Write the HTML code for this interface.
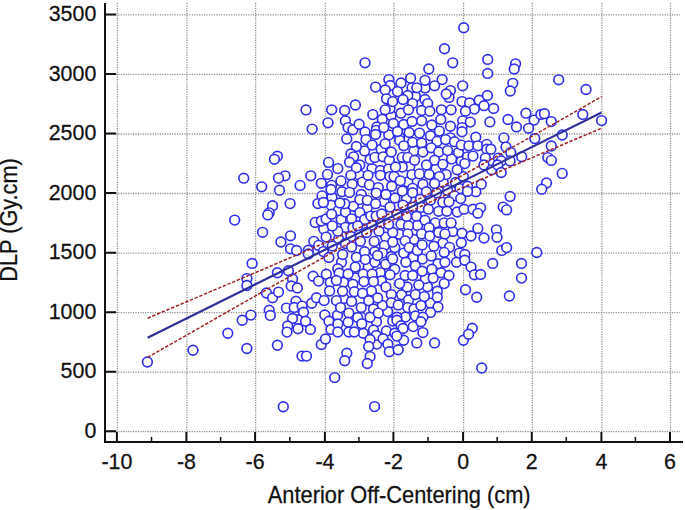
<!DOCTYPE html><html><head><meta charset="utf-8"><style>html,body{margin:0;padding:0;background:#fff;}svg{display:block;}text{font-family:"Liberation Sans",sans-serif;stroke:#111;stroke-width:0.25px;}</style></head><body>
<svg width="685" height="510" viewBox="0 0 685 510">
<path d="M117.4 3V432 M186.9 3V432 M255.6 3V432 M325.4 3V432 M393.9 3V432 M463.6 3V432 M532.3 3V432 M601.9 3V432 M670.5 3V432 M106 431.7H680 M106 372.2H680 M106 312.6H680 M106 253.1H680 M106 193.5H680 M106 134.0H680 M106 74.4H680 M106 14.9H680" stroke="#8e8e8e" stroke-width="1.3" stroke-dasharray="1.2 1.25" fill="none"/>
<g fill="#fff" stroke="#3030ec" stroke-width="1.65"><circle cx="455.5" cy="182.5" r="4.85"/><circle cx="430.4" cy="135.7" r="4.85"/><circle cx="341.0" cy="180.9" r="4.85"/><circle cx="341.2" cy="219.4" r="4.85"/><circle cx="360.4" cy="241.3" r="4.85"/><circle cx="436.5" cy="192.9" r="4.85"/><circle cx="420.4" cy="199.3" r="4.85"/><circle cx="396.9" cy="214.3" r="4.85"/><circle cx="406.6" cy="216.6" r="4.85"/><circle cx="385.6" cy="264.3" r="4.85"/><circle cx="355.3" cy="267.1" r="4.85"/><circle cx="401.6" cy="294.8" r="4.85"/><circle cx="451.6" cy="158.9" r="4.85"/><circle cx="463.3" cy="176.6" r="4.85"/><circle cx="394.9" cy="198.0" r="4.85"/><circle cx="387.6" cy="311.6" r="4.85"/><circle cx="364.6" cy="150.9" r="4.85"/><circle cx="391.7" cy="186.3" r="4.85"/><circle cx="422.5" cy="259.1" r="4.85"/><circle cx="413.2" cy="326.6" r="4.85"/><circle cx="403.7" cy="124.5" r="4.85"/><circle cx="427.5" cy="286.8" r="4.85"/><circle cx="382.3" cy="119.3" r="4.85"/><circle cx="430.6" cy="199.9" r="4.85"/><circle cx="416.5" cy="216.2" r="4.85"/><circle cx="371.7" cy="225.1" r="4.85"/><circle cx="417.5" cy="225.5" r="4.85"/><circle cx="443.0" cy="243.1" r="4.85"/><circle cx="380.3" cy="272.6" r="4.85"/><circle cx="371.4" cy="290.9" r="4.85"/><circle cx="405.5" cy="317.1" r="4.85"/><circle cx="363.3" cy="333.2" r="4.85"/><circle cx="388.8" cy="134.9" r="4.85"/><circle cx="437.0" cy="141.4" r="4.85"/><circle cx="414.0" cy="150.9" r="4.85"/><circle cx="332.0" cy="197.3" r="4.85"/><circle cx="353.4" cy="206.3" r="4.85"/><circle cx="385.7" cy="237.1" r="4.85"/><circle cx="413.9" cy="239.5" r="4.85"/><circle cx="441.0" cy="272.7" r="4.85"/><circle cx="430.4" cy="303.1" r="4.85"/><circle cx="458.5" cy="152.6" r="4.85"/><circle cx="372.0" cy="168.6" r="4.85"/><circle cx="436.1" cy="168.9" r="4.85"/><circle cx="323.7" cy="229.1" r="4.85"/><circle cx="338.6" cy="239.3" r="4.85"/><circle cx="382.4" cy="305.4" r="4.85"/><circle cx="337.5" cy="315.3" r="4.85"/><circle cx="386.4" cy="331.0" r="4.85"/><circle cx="425.1" cy="87.9" r="4.85"/><circle cx="415.4" cy="96.5" r="4.85"/><circle cx="391.1" cy="115.6" r="4.85"/><circle cx="365.0" cy="132.0" r="4.85"/><circle cx="409.8" cy="166.8" r="4.85"/><circle cx="331.1" cy="205.2" r="4.85"/><circle cx="367.2" cy="207.9" r="4.85"/><circle cx="338.3" cy="210.6" r="4.85"/><circle cx="345.5" cy="212.1" r="4.85"/><circle cx="381.5" cy="223.4" r="4.85"/><circle cx="345.4" cy="227.4" r="4.85"/><circle cx="452.7" cy="231.5" r="4.85"/><circle cx="413.2" cy="257.4" r="4.85"/><circle cx="326.3" cy="274.3" r="4.85"/><circle cx="425.4" cy="278.6" r="4.85"/><circle cx="343.5" cy="282.2" r="4.85"/><circle cx="343.8" cy="298.4" r="4.85"/><circle cx="408.5" cy="300.0" r="4.85"/><circle cx="376.5" cy="321.7" r="4.85"/><circle cx="359.3" cy="174.9" r="4.85"/><circle cx="407.8" cy="182.0" r="4.85"/><circle cx="443.3" cy="182.8" r="4.85"/><circle cx="459.9" cy="188.6" r="4.85"/><circle cx="406.5" cy="198.6" r="4.85"/><circle cx="384.0" cy="201.6" r="4.85"/><circle cx="421.1" cy="207.4" r="4.85"/><circle cx="399.3" cy="234.3" r="4.85"/><circle cx="449.5" cy="247.3" r="4.85"/><circle cx="341.5" cy="262.3" r="4.85"/><circle cx="368.2" cy="267.1" r="4.85"/><circle cx="355.6" cy="277.7" r="4.85"/><circle cx="381.4" cy="281.0" r="4.85"/><circle cx="403.6" cy="340.2" r="4.85"/><circle cx="376.9" cy="344.1" r="4.85"/><circle cx="243.7" cy="178.2" r="4.85"/><circle cx="234.7" cy="220.1" r="4.85"/><circle cx="252.1" cy="263.4" r="4.85"/><circle cx="246.9" cy="278.6" r="4.85"/><circle cx="246.9" cy="285.5" r="4.85"/><circle cx="250.9" cy="315.1" r="4.85"/><circle cx="242.2" cy="320.3" r="4.85"/><circle cx="227.8" cy="333.2" r="4.85"/><circle cx="193.0" cy="350.2" r="4.85"/><circle cx="246.9" cy="348.5" r="4.85"/><circle cx="147.4" cy="362.0" r="4.85"/><circle cx="306.0" cy="109.9" r="4.85"/><circle cx="312.1" cy="129.1" r="4.85"/><circle cx="277.4" cy="156.2" r="4.85"/><circle cx="274.4" cy="159.3" r="4.85"/><circle cx="285.0" cy="175.8" r="4.85"/><circle cx="278.5" cy="178.1" r="4.85"/><circle cx="261.7" cy="186.8" r="4.85"/><circle cx="279.5" cy="190.2" r="4.85"/><circle cx="300.1" cy="185.4" r="4.85"/><circle cx="310.8" cy="175.8" r="4.85"/><circle cx="321.3" cy="183.3" r="4.85"/><circle cx="322.0" cy="195.9" r="4.85"/><circle cx="317.9" cy="203.6" r="4.85"/><circle cx="323.4" cy="202.5" r="4.85"/><circle cx="290.1" cy="203.6" r="4.85"/><circle cx="272.6" cy="205.7" r="4.85"/><circle cx="269.2" cy="212.8" r="4.85"/><circle cx="267.8" cy="214.9" r="4.85"/><circle cx="315.2" cy="222.4" r="4.85"/><circle cx="321.3" cy="221.0" r="4.85"/><circle cx="262.6" cy="232.3" r="4.85"/><circle cx="280.9" cy="242.0" r="4.85"/><circle cx="290.5" cy="235.8" r="4.85"/><circle cx="290.5" cy="248.8" r="4.85"/><circle cx="296.6" cy="250.5" r="4.85"/><circle cx="308.3" cy="250.2" r="4.85"/><circle cx="308.3" cy="254.0" r="4.85"/><circle cx="313.8" cy="241.3" r="4.85"/><circle cx="318.6" cy="245.4" r="4.85"/><circle cx="323.4" cy="251.6" r="4.85"/><circle cx="277.4" cy="272.8" r="4.85"/><circle cx="288.4" cy="270.8" r="4.85"/><circle cx="292.5" cy="279.0" r="4.85"/><circle cx="291.2" cy="285.9" r="4.85"/><circle cx="297.3" cy="287.9" r="4.85"/><circle cx="313.1" cy="276.2" r="4.85"/><circle cx="318.6" cy="281.1" r="4.85"/><circle cx="266.5" cy="293.0" r="4.85"/><circle cx="272.6" cy="297.8" r="4.85"/><circle cx="278.5" cy="292.1" r="4.85"/><circle cx="269.2" cy="310.2" r="4.85"/><circle cx="270.3" cy="315.4" r="4.85"/><circle cx="286.4" cy="308.1" r="4.85"/><circle cx="296.0" cy="301.3" r="4.85"/><circle cx="294.2" cy="307.4" r="4.85"/><circle cx="302.1" cy="306.1" r="4.85"/><circle cx="303.5" cy="312.2" r="4.85"/><circle cx="298.0" cy="319.8" r="4.85"/><circle cx="292.5" cy="318.4" r="4.85"/><circle cx="305.6" cy="321.2" r="4.85"/><circle cx="287.7" cy="326.0" r="4.85"/><circle cx="287.0" cy="332.1" r="4.85"/><circle cx="298.0" cy="328.7" r="4.85"/><circle cx="310.4" cy="329.4" r="4.85"/><circle cx="311.7" cy="303.3" r="4.85"/><circle cx="316.5" cy="297.8" r="4.85"/><circle cx="324.1" cy="300.6" r="4.85"/><circle cx="324.8" cy="315.0" r="4.85"/><circle cx="321.3" cy="344.5" r="4.85"/><circle cx="277.4" cy="345.2" r="4.85"/><circle cx="302.0" cy="356.1" r="4.85"/><circle cx="306.5" cy="356.1" r="4.85"/><circle cx="283.3" cy="406.7" r="4.85"/><circle cx="365.0" cy="62.8" r="4.85"/><circle cx="375.6" cy="87.1" r="4.85"/><circle cx="388.9" cy="79.6" r="4.85"/><circle cx="390.2" cy="85.4" r="4.85"/><circle cx="385.2" cy="89.9" r="4.85"/><circle cx="386.5" cy="98.8" r="4.85"/><circle cx="390.0" cy="108.4" r="4.85"/><circle cx="385.2" cy="109.8" r="4.85"/><circle cx="372.8" cy="114.6" r="4.85"/><circle cx="355.4" cy="105.0" r="4.85"/><circle cx="344.7" cy="110.5" r="4.85"/><circle cx="331.7" cy="109.8" r="4.85"/><circle cx="328.0" cy="122.8" r="4.85"/><circle cx="345.4" cy="120.8" r="4.85"/><circle cx="348.1" cy="127.6" r="4.85"/><circle cx="352.9" cy="129.7" r="4.85"/><circle cx="359.1" cy="124.2" r="4.85"/><circle cx="376.9" cy="126.9" r="4.85"/><circle cx="376.2" cy="130.4" r="4.85"/><circle cx="375.6" cy="134.5" r="4.85"/><circle cx="383.8" cy="127.6" r="4.85"/><circle cx="393.4" cy="123.5" r="4.85"/><circle cx="346.8" cy="138.9" r="4.85"/><circle cx="366.0" cy="139.6" r="4.85"/><circle cx="372.1" cy="145.1" r="4.85"/><circle cx="356.4" cy="146.5" r="4.85"/><circle cx="350.9" cy="154.0" r="4.85"/><circle cx="353.6" cy="156.8" r="4.85"/><circle cx="349.5" cy="162.2" r="4.85"/><circle cx="359.8" cy="165.0" r="4.85"/><circle cx="356.4" cy="167.7" r="4.85"/><circle cx="350.9" cy="175.3" r="4.85"/><circle cx="342.0" cy="191.7" r="4.85"/><circle cx="352.2" cy="184.2" r="4.85"/><circle cx="349.5" cy="192.4" r="4.85"/><circle cx="362.5" cy="182.1" r="4.85"/><circle cx="368.0" cy="175.3" r="4.85"/><circle cx="370.1" cy="159.5" r="4.85"/><circle cx="374.9" cy="157.4" r="4.85"/><circle cx="381.1" cy="149.2" r="4.85"/><circle cx="383.1" cy="156.8" r="4.85"/><circle cx="389.3" cy="160.2" r="4.85"/><circle cx="391.3" cy="152.0" r="4.85"/><circle cx="385.2" cy="143.7" r="4.85"/><circle cx="380.4" cy="170.5" r="4.85"/><circle cx="388.6" cy="169.1" r="4.85"/><circle cx="380.4" cy="175.3" r="4.85"/><circle cx="390.0" cy="176.6" r="4.85"/><circle cx="369.4" cy="184.9" r="4.85"/><circle cx="378.3" cy="187.6" r="4.85"/><circle cx="376.2" cy="193.1" r="4.85"/><circle cx="385.9" cy="194.5" r="4.85"/><circle cx="361.2" cy="194.5" r="4.85"/><circle cx="337.8" cy="168.6" r="4.85"/><circle cx="328.6" cy="162.4" r="4.85"/><circle cx="327.5" cy="174.4" r="4.85"/><circle cx="331.6" cy="185.4" r="4.85"/><circle cx="331.0" cy="189.5" r="4.85"/><circle cx="359.8" cy="199.6" r="4.85"/><circle cx="344.7" cy="203.7" r="4.85"/><circle cx="339.9" cy="203.0" r="4.85"/><circle cx="367.3" cy="200.3" r="4.85"/><circle cx="375.6" cy="203.7" r="4.85"/><circle cx="390.0" cy="207.1" r="4.85"/><circle cx="337.8" cy="231.2" r="4.85"/><circle cx="351.6" cy="218.8" r="4.85"/><circle cx="359.8" cy="212.6" r="4.85"/><circle cx="364.6" cy="219.5" r="4.85"/><circle cx="352.9" cy="227.7" r="4.85"/><circle cx="357.7" cy="225.7" r="4.85"/><circle cx="370.8" cy="216.1" r="4.85"/><circle cx="376.2" cy="216.1" r="4.85"/><circle cx="381.7" cy="214.0" r="4.85"/><circle cx="366.6" cy="232.5" r="4.85"/><circle cx="379.0" cy="231.2" r="4.85"/><circle cx="374.2" cy="241.4" r="4.85"/><circle cx="350.9" cy="236.6" r="4.85"/><circle cx="345.4" cy="243.5" r="4.85"/><circle cx="351.6" cy="246.9" r="4.85"/><circle cx="342.6" cy="254.5" r="4.85"/><circle cx="356.4" cy="257.2" r="4.85"/><circle cx="364.6" cy="251.7" r="4.85"/><circle cx="374.9" cy="251.7" r="4.85"/><circle cx="384.5" cy="245.6" r="4.85"/><circle cx="382.4" cy="253.1" r="4.85"/><circle cx="392.7" cy="232.5" r="4.85"/><circle cx="388.6" cy="224.3" r="4.85"/><circle cx="391.3" cy="256.5" r="4.85"/><circle cx="394.8" cy="247.6" r="4.85"/><circle cx="326.1" cy="219.0" r="4.85"/><circle cx="331.6" cy="214.2" r="4.85"/><circle cx="332.3" cy="225.9" r="4.85"/><circle cx="326.1" cy="237.1" r="4.85"/><circle cx="332.3" cy="246.1" r="4.85"/><circle cx="328.9" cy="257.5" r="4.85"/><circle cx="365.3" cy="259.6" r="4.85"/><circle cx="374.9" cy="262.3" r="4.85"/><circle cx="377.6" cy="255.5" r="4.85"/><circle cx="392.7" cy="258.9" r="4.85"/><circle cx="337.8" cy="268.7" r="4.85"/><circle cx="339.2" cy="273.3" r="4.85"/><circle cx="348.1" cy="274.0" r="4.85"/><circle cx="363.2" cy="274.0" r="4.85"/><circle cx="372.1" cy="274.0" r="4.85"/><circle cx="394.8" cy="269.2" r="4.85"/><circle cx="390.0" cy="274.7" r="4.85"/><circle cx="330.3" cy="282.4" r="4.85"/><circle cx="336.4" cy="280.4" r="4.85"/><circle cx="352.9" cy="284.3" r="4.85"/><circle cx="363.9" cy="281.6" r="4.85"/><circle cx="373.5" cy="281.6" r="4.85"/><circle cx="385.9" cy="287.0" r="4.85"/><circle cx="342.6" cy="291.2" r="4.85"/><circle cx="354.3" cy="291.8" r="4.85"/><circle cx="362.5" cy="293.2" r="4.85"/><circle cx="377.6" cy="298.0" r="4.85"/><circle cx="391.3" cy="294.6" r="4.85"/><circle cx="329.6" cy="291.0" r="4.85"/><circle cx="336.4" cy="300.6" r="4.85"/><circle cx="351.6" cy="301.4" r="4.85"/><circle cx="368.7" cy="300.8" r="4.85"/><circle cx="391.3" cy="302.8" r="4.85"/><circle cx="340.6" cy="307.6" r="4.85"/><circle cx="348.8" cy="313.1" r="4.85"/><circle cx="361.2" cy="307.6" r="4.85"/><circle cx="373.5" cy="309.0" r="4.85"/><circle cx="361.2" cy="317.2" r="4.85"/><circle cx="370.1" cy="317.2" r="4.85"/><circle cx="378.3" cy="313.1" r="4.85"/><circle cx="328.9" cy="321.2" r="4.85"/><circle cx="331.0" cy="329.4" r="4.85"/><circle cx="337.8" cy="323.9" r="4.85"/><circle cx="337.8" cy="332.0" r="4.85"/><circle cx="348.1" cy="322.3" r="4.85"/><circle cx="348.8" cy="332.0" r="4.85"/><circle cx="354.3" cy="332.0" r="4.85"/><circle cx="357.7" cy="317.5" r="4.85"/><circle cx="361.8" cy="323.7" r="4.85"/><circle cx="373.5" cy="329.9" r="4.85"/><circle cx="376.2" cy="335.4" r="4.85"/><circle cx="325.5" cy="339.0" r="4.85"/><circle cx="370.1" cy="339.5" r="4.85"/><circle cx="368.7" cy="346.4" r="4.85"/><circle cx="370.1" cy="356.6" r="4.85"/><circle cx="367.3" cy="363.5" r="4.85"/><circle cx="383.1" cy="338.8" r="4.85"/><circle cx="387.9" cy="344.3" r="4.85"/><circle cx="389.3" cy="351.8" r="4.85"/><circle cx="392.7" cy="321.0" r="4.85"/><circle cx="346.8" cy="353.2" r="4.85"/><circle cx="344.7" cy="360.8" r="4.85"/><circle cx="334.7" cy="377.6" r="4.85"/><circle cx="374.6" cy="406.6" r="4.85"/><circle cx="463.7" cy="27.8" r="4.85"/><circle cx="444.5" cy="48.7" r="4.85"/><circle cx="452.7" cy="62.8" r="4.85"/><circle cx="428.8" cy="69.0" r="4.85"/><circle cx="410.6" cy="78.2" r="4.85"/><circle cx="425.0" cy="80.3" r="4.85"/><circle cx="442.1" cy="79.6" r="4.85"/><circle cx="434.6" cy="85.8" r="4.85"/><circle cx="450.4" cy="90.6" r="4.85"/><circle cx="449.0" cy="97.4" r="4.85"/><circle cx="446.2" cy="94.0" r="4.85"/><circle cx="462.7" cy="85.8" r="4.85"/><circle cx="401.0" cy="83.0" r="4.85"/><circle cx="412.0" cy="87.8" r="4.85"/><circle cx="416.8" cy="87.8" r="4.85"/><circle cx="407.8" cy="95.4" r="4.85"/><circle cx="392.7" cy="101.6" r="4.85"/><circle cx="403.0" cy="99.5" r="4.85"/><circle cx="412.6" cy="103.6" r="4.85"/><circle cx="425.0" cy="99.5" r="4.85"/><circle cx="427.7" cy="103.6" r="4.85"/><circle cx="401.0" cy="113.2" r="4.85"/><circle cx="408.5" cy="109.8" r="4.85"/><circle cx="421.6" cy="110.5" r="4.85"/><circle cx="429.8" cy="111.2" r="4.85"/><circle cx="441.4" cy="109.8" r="4.85"/><circle cx="451.1" cy="109.8" r="4.85"/><circle cx="462.0" cy="101.6" r="4.85"/><circle cx="462.7" cy="120.8" r="4.85"/><circle cx="462.0" cy="127.6" r="4.85"/><circle cx="462.0" cy="131.7" r="4.85"/><circle cx="412.0" cy="121.4" r="4.85"/><circle cx="421.6" cy="120.8" r="4.85"/><circle cx="431.8" cy="124.9" r="4.85"/><circle cx="440.8" cy="119.4" r="4.85"/><circle cx="450.4" cy="126.2" r="4.85"/><circle cx="439.4" cy="131.1" r="4.85"/><circle cx="419.5" cy="133.1" r="4.85"/><circle cx="409.2" cy="132.4" r="4.85"/><circle cx="399.6" cy="137.2" r="4.85"/><circle cx="450.4" cy="137.9" r="4.85"/><circle cx="399.6" cy="140.3" r="4.85"/><circle cx="412.6" cy="142.3" r="4.85"/><circle cx="421.6" cy="143.0" r="4.85"/><circle cx="445.6" cy="139.6" r="4.85"/><circle cx="454.5" cy="141.7" r="4.85"/><circle cx="461.3" cy="145.1" r="4.85"/><circle cx="403.7" cy="145.8" r="4.85"/><circle cx="422.9" cy="152.0" r="4.85"/><circle cx="431.2" cy="147.8" r="4.85"/><circle cx="438.7" cy="152.0" r="4.85"/><circle cx="447.6" cy="150.6" r="4.85"/><circle cx="402.3" cy="157.4" r="4.85"/><circle cx="407.8" cy="157.4" r="4.85"/><circle cx="414.7" cy="160.2" r="4.85"/><circle cx="434.6" cy="160.2" r="4.85"/><circle cx="442.8" cy="164.3" r="4.85"/><circle cx="461.3" cy="161.6" r="4.85"/><circle cx="402.3" cy="167.0" r="4.85"/><circle cx="426.4" cy="165.0" r="4.85"/><circle cx="395.5" cy="167.0" r="4.85"/><circle cx="457.2" cy="169.8" r="4.85"/><circle cx="394.1" cy="176.6" r="4.85"/><circle cx="412.0" cy="174.6" r="4.85"/><circle cx="419.5" cy="173.9" r="4.85"/><circle cx="429.1" cy="174.6" r="4.85"/><circle cx="446.2" cy="174.6" r="4.85"/><circle cx="439.4" cy="176.6" r="4.85"/><circle cx="400.3" cy="180.8" r="4.85"/><circle cx="402.3" cy="191.1" r="4.85"/><circle cx="412.6" cy="188.3" r="4.85"/><circle cx="422.9" cy="184.2" r="4.85"/><circle cx="434.6" cy="183.5" r="4.85"/><circle cx="426.4" cy="191.7" r="4.85"/><circle cx="447.6" cy="190.4" r="4.85"/><circle cx="454.5" cy="195.9" r="4.85"/><circle cx="460.7" cy="198.6" r="4.85"/><circle cx="412.6" cy="192.7" r="4.85"/><circle cx="403.0" cy="205.1" r="4.85"/><circle cx="412.6" cy="207.1" r="4.85"/><circle cx="442.8" cy="202.3" r="4.85"/><circle cx="449.0" cy="201.7" r="4.85"/><circle cx="428.4" cy="209.2" r="4.85"/><circle cx="438.7" cy="211.3" r="4.85"/><circle cx="446.9" cy="211.3" r="4.85"/><circle cx="457.2" cy="212.0" r="4.85"/><circle cx="464.1" cy="209.2" r="4.85"/><circle cx="401.0" cy="224.3" r="4.85"/><circle cx="408.5" cy="225.7" r="4.85"/><circle cx="425.0" cy="220.2" r="4.85"/><circle cx="435.3" cy="222.9" r="4.85"/><circle cx="444.2" cy="222.9" r="4.85"/><circle cx="451.1" cy="222.9" r="4.85"/><circle cx="429.1" cy="227.7" r="4.85"/><circle cx="407.8" cy="233.9" r="4.85"/><circle cx="421.6" cy="233.9" r="4.85"/><circle cx="429.8" cy="236.0" r="4.85"/><circle cx="438.7" cy="232.5" r="4.85"/><circle cx="444.9" cy="233.9" r="4.85"/><circle cx="462.0" cy="233.2" r="4.85"/><circle cx="405.1" cy="240.8" r="4.85"/><circle cx="392.7" cy="242.1" r="4.85"/><circle cx="461.3" cy="242.8" r="4.85"/><circle cx="403.7" cy="253.1" r="4.85"/><circle cx="409.2" cy="247.6" r="4.85"/><circle cx="417.4" cy="250.4" r="4.85"/><circle cx="422.2" cy="244.9" r="4.85"/><circle cx="433.9" cy="246.2" r="4.85"/><circle cx="431.2" cy="255.9" r="4.85"/><circle cx="444.2" cy="252.4" r="4.85"/><circle cx="459.3" cy="253.1" r="4.85"/><circle cx="464.8" cy="254.5" r="4.85"/><circle cx="405.8" cy="262.3" r="4.85"/><circle cx="415.4" cy="265.8" r="4.85"/><circle cx="438.0" cy="263.7" r="4.85"/><circle cx="444.9" cy="262.3" r="4.85"/><circle cx="456.5" cy="262.3" r="4.85"/><circle cx="464.8" cy="260.3" r="4.85"/><circle cx="405.1" cy="275.4" r="4.85"/><circle cx="412.6" cy="275.4" r="4.85"/><circle cx="422.2" cy="271.3" r="4.85"/><circle cx="431.8" cy="269.2" r="4.85"/><circle cx="433.2" cy="278.1" r="4.85"/><circle cx="449.0" cy="275.4" r="4.85"/><circle cx="444.2" cy="283.6" r="4.85"/><circle cx="407.1" cy="287.0" r="4.85"/><circle cx="418.8" cy="285.0" r="4.85"/><circle cx="415.4" cy="294.6" r="4.85"/><circle cx="424.3" cy="296.6" r="4.85"/><circle cx="437.3" cy="291.2" r="4.85"/><circle cx="437.3" cy="297.3" r="4.85"/><circle cx="465.5" cy="289.8" r="4.85"/><circle cx="398.2" cy="304.9" r="4.85"/><circle cx="407.8" cy="307.6" r="4.85"/><circle cx="414.0" cy="309.0" r="4.85"/><circle cx="420.9" cy="305.6" r="4.85"/><circle cx="438.0" cy="306.9" r="4.85"/><circle cx="430.5" cy="312.4" r="4.85"/><circle cx="415.4" cy="315.9" r="4.85"/><circle cx="396.9" cy="317.2" r="4.85"/><circle cx="422.9" cy="317.2" r="4.85"/><circle cx="396.9" cy="320.3" r="4.85"/><circle cx="401.0" cy="325.8" r="4.85"/><circle cx="403.0" cy="328.5" r="4.85"/><circle cx="394.8" cy="333.3" r="4.85"/><circle cx="396.8" cy="336.1" r="4.85"/><circle cx="420.9" cy="321.7" r="4.85"/><circle cx="422.9" cy="332.6" r="4.85"/><circle cx="416.8" cy="342.9" r="4.85"/><circle cx="434.6" cy="342.9" r="4.85"/><circle cx="398.2" cy="349.8" r="4.85"/><circle cx="463.4" cy="340.2" r="4.85"/><circle cx="487.7" cy="59.4" r="4.85"/><circle cx="487.7" cy="73.4" r="4.85"/><circle cx="515.6" cy="63.8" r="4.85"/><circle cx="514.2" cy="69.0" r="4.85"/><circle cx="512.8" cy="83.3" r="4.85"/><circle cx="510.3" cy="91.0" r="4.85"/><circle cx="469.6" cy="102.9" r="4.85"/><circle cx="479.2" cy="100.2" r="4.85"/><circle cx="487.4" cy="95.4" r="4.85"/><circle cx="484.0" cy="105.7" r="4.85"/><circle cx="474.4" cy="109.1" r="4.85"/><circle cx="465.5" cy="111.2" r="4.85"/><circle cx="493.6" cy="108.4" r="4.85"/><circle cx="470.3" cy="122.1" r="4.85"/><circle cx="489.9" cy="121.9" r="4.85"/><circle cx="508.0" cy="119.4" r="4.85"/><circle cx="516.5" cy="126.9" r="4.85"/><circle cx="525.9" cy="113.2" r="4.85"/><circle cx="534.1" cy="120.1" r="4.85"/><circle cx="528.6" cy="128.3" r="4.85"/><circle cx="475.8" cy="137.2" r="4.85"/><circle cx="503.9" cy="137.9" r="4.85"/><circle cx="534.8" cy="138.6" r="4.85"/><circle cx="468.9" cy="145.8" r="4.85"/><circle cx="477.8" cy="145.8" r="4.85"/><circle cx="486.8" cy="144.4" r="4.85"/><circle cx="486.8" cy="149.2" r="4.85"/><circle cx="490.9" cy="149.2" r="4.85"/><circle cx="506.0" cy="147.1" r="4.85"/><circle cx="510.8" cy="152.6" r="4.85"/><circle cx="467.5" cy="156.8" r="4.85"/><circle cx="473.0" cy="156.1" r="4.85"/><circle cx="485.4" cy="158.1" r="4.85"/><circle cx="498.4" cy="158.1" r="4.85"/><circle cx="501.2" cy="160.9" r="4.85"/><circle cx="510.1" cy="160.9" r="4.85"/><circle cx="521.7" cy="156.8" r="4.85"/><circle cx="464.8" cy="163.6" r="4.85"/><circle cx="484.0" cy="165.0" r="4.85"/><circle cx="491.6" cy="169.8" r="4.85"/><circle cx="497.7" cy="165.0" r="4.85"/><circle cx="501.2" cy="172.5" r="4.85"/><circle cx="467.5" cy="186.2" r="4.85"/><circle cx="481.3" cy="184.2" r="4.85"/><circle cx="475.8" cy="191.7" r="4.85"/><circle cx="510.1" cy="196.5" r="4.85"/><circle cx="467.5" cy="191.4" r="4.85"/><circle cx="473.0" cy="209.2" r="4.85"/><circle cx="480.6" cy="207.8" r="4.85"/><circle cx="477.8" cy="213.3" r="4.85"/><circle cx="503.2" cy="207.1" r="4.85"/><circle cx="506.6" cy="209.9" r="4.85"/><circle cx="477.8" cy="228.4" r="4.85"/><circle cx="471.0" cy="236.0" r="4.85"/><circle cx="484.0" cy="238.0" r="4.85"/><circle cx="496.4" cy="229.8" r="4.85"/><circle cx="497.0" cy="237.3" r="4.85"/><circle cx="501.8" cy="250.4" r="4.85"/><circle cx="506.6" cy="247.6" r="4.85"/><circle cx="471.0" cy="267.1" r="4.85"/><circle cx="474.4" cy="274.7" r="4.85"/><circle cx="480.6" cy="274.4" r="4.85"/><circle cx="492.7" cy="263.4" r="4.85"/><circle cx="521.5" cy="263.4" r="4.85"/><circle cx="521.5" cy="278.1" r="4.85"/><circle cx="476.7" cy="297.3" r="4.85"/><circle cx="509.4" cy="296.0" r="4.85"/><circle cx="472.3" cy="328.2" r="4.85"/><circle cx="468.6" cy="334.3" r="4.85"/><circle cx="481.7" cy="368.0" r="4.85"/><circle cx="558.7" cy="79.8" r="4.85"/><circle cx="586.0" cy="89.5" r="4.85"/><circle cx="540.9" cy="114.4" r="4.85"/><circle cx="544.4" cy="113.7" r="4.85"/><circle cx="551.3" cy="121.6" r="4.85"/><circle cx="582.8" cy="114.4" r="4.85"/><circle cx="601.6" cy="120.6" r="4.85"/><circle cx="562.2" cy="135.0" r="4.85"/><circle cx="551.3" cy="146.0" r="4.85"/><circle cx="547.8" cy="157.6" r="4.85"/><circle cx="551.3" cy="160.4" r="4.85"/><circle cx="562.2" cy="173.4" r="4.85"/><circle cx="546.5" cy="183.0" r="4.85"/><circle cx="541.7" cy="189.2" r="4.85"/><circle cx="536.8" cy="252.5" r="4.85"/><circle cx="397.5" cy="91.6" r="4.85"/><circle cx="397.5" cy="131.5" r="4.85"/><circle cx="399.6" cy="283.6" r="4.85"/></g>
<path d="M147.6 318.2 L155.2 315.0 L162.7 311.8 L170.3 308.6 L177.9 305.5 L185.4 302.3 L193.0 299.1 L200.6 295.9 L208.1 292.6 L215.7 289.4 L223.3 286.2 L230.8 283.0 L238.4 279.8 L246.0 276.6 L253.5 273.4 L261.1 270.2 L268.7 267.0 L276.2 263.7 L283.8 260.5 L291.4 257.3 L298.9 254.0 L306.5 250.8 L314.1 247.5 L321.6 244.2 L329.2 241.0 L336.8 237.7 L344.3 234.3 L351.9 231.0 L359.5 227.6 L367.0 224.2 L374.6 220.7 L382.2 217.2 L389.7 213.6 L397.3 209.9 L404.9 206.1 L412.4 202.3 L420.0 198.3 L427.6 194.3 L435.1 190.3 L442.7 186.2 L450.3 182.1 L457.8 177.9 L465.4 173.7 L473.0 169.5 L480.5 165.3 L488.1 161.0 L495.7 156.8 L503.2 152.5 L510.8 148.2 L518.4 143.9 L525.9 139.7 L533.5 135.4 L541.1 131.1 L548.6 126.8 L556.2 122.5 L563.8 118.2 L571.3 113.9 L578.9 109.6 L586.5 105.3 L594.0 100.9 L601.6 96.6" stroke="#a02424" stroke-width="1.5" stroke-dasharray="3.4 1.7" fill="none"/>
<path d="M147.6 357.4 L155.2 353.0 L162.7 348.7 L170.3 344.4 L177.9 340.1 L185.4 335.8 L193.0 331.5 L200.6 327.2 L208.1 322.8 L215.7 318.5 L223.3 314.2 L230.8 309.9 L238.4 305.6 L246.0 301.3 L253.5 297.0 L261.1 292.7 L268.7 288.4 L276.2 284.1 L283.8 279.9 L291.4 275.6 L298.9 271.3 L306.5 267.0 L314.1 262.8 L321.6 258.6 L329.2 254.3 L336.8 250.1 L344.3 245.9 L351.9 241.8 L359.5 237.6 L367.0 233.5 L374.6 229.5 L382.2 225.5 L389.7 221.6 L397.3 217.8 L404.9 214.0 L412.4 210.4 L420.0 206.8 L427.6 203.3 L435.1 199.8 L442.7 196.4 L450.3 193.0 L457.8 189.7 L465.4 186.3 L473.0 183.0 L480.5 179.8 L488.1 176.5 L495.7 173.2 L503.2 170.0 L510.8 166.7 L518.4 163.5 L525.9 160.3 L533.5 157.1 L541.1 153.8 L548.6 150.6 L556.2 147.4 L563.8 144.2 L571.3 141.0 L578.9 137.8 L586.5 134.6 L594.0 131.4 L601.6 128.2" stroke="#a02424" stroke-width="1.5" stroke-dasharray="3.4 1.7" fill="none"/>
<path d="M147.6 337.8L601.6 112.4" stroke="#30309a" stroke-width="2.2" fill="none"/>
<path d="M105 3V443M104 442H683" stroke="#111" stroke-width="2" fill="none"/>
<path d="M105 431.3H116 M105 371.8H116 M105 312.2H116 M105 252.7H116 M105 193.1H116 M105 133.6H116 M105 74.0H116 M105 14.5H116 M116.9 442V432 M186.4 442V432 M255.1 442V432 M324.9 442V432 M393.4 442V432 M463.1 442V432 M531.8 442V432 M601.4 442V432 M670.0 442V432" stroke="#111" stroke-width="2" fill="none"/>
<path d="M151.5 442V437 M220.6 442V437 M289.8 442V437 M358.9 442V437 M428.0 442V437 M497.2 442V437 M566.3 442V437 M635.4 442V437" stroke="#111" stroke-width="1.5" fill="none"/>
<text transform="translate(96.3,437.8) scale(1.02,1.09)" font-size="21" text-anchor="end" fill="#111">0</text>
<text transform="translate(96.3,378.3) scale(1.02,1.09)" font-size="21" text-anchor="end" fill="#111">500</text>
<text transform="translate(96.3,318.7) scale(1.02,1.09)" font-size="21" text-anchor="end" fill="#111">1000</text>
<text transform="translate(96.3,259.2) scale(1.02,1.09)" font-size="21" text-anchor="end" fill="#111">1500</text>
<text transform="translate(96.3,199.6) scale(1.02,1.09)" font-size="21" text-anchor="end" fill="#111">2000</text>
<text transform="translate(96.3,140.1) scale(1.02,1.09)" font-size="21" text-anchor="end" fill="#111">2500</text>
<text transform="translate(96.3,80.5) scale(1.02,1.09)" font-size="21" text-anchor="end" fill="#111">3000</text>
<text transform="translate(96.3,21.0) scale(1.02,1.09)" font-size="21" text-anchor="end" fill="#111">3500</text>
<text transform="translate(116.9,469.0) scale(1.02,1.09)" font-size="21" text-anchor="middle" fill="#111">-10</text>
<text transform="translate(186.4,469.0) scale(1.02,1.09)" font-size="21" text-anchor="middle" fill="#111">-8</text>
<text transform="translate(255.1,469.0) scale(1.02,1.09)" font-size="21" text-anchor="middle" fill="#111">-6</text>
<text transform="translate(324.9,469.0) scale(1.02,1.09)" font-size="21" text-anchor="middle" fill="#111">-4</text>
<text transform="translate(393.4,469.0) scale(1.02,1.09)" font-size="21" text-anchor="middle" fill="#111">-2</text>
<text transform="translate(463.1,469.0) scale(1.02,1.09)" font-size="21" text-anchor="middle" fill="#111">0</text>
<text transform="translate(531.8,469.0) scale(1.02,1.09)" font-size="21" text-anchor="middle" fill="#111">2</text>
<text transform="translate(601.4,469.0) scale(1.02,1.09)" font-size="21" text-anchor="middle" fill="#111">4</text>
<text transform="translate(670.0,469.0) scale(1.02,1.09)" font-size="21" text-anchor="middle" fill="#111">6</text>
<text transform="translate(399.2,503.1) scale(1.04,1.1)" font-size="21" text-anchor="middle" fill="#111">Anterior Off-Centering (cm)</text>
<text transform="translate(16.6,220) rotate(-90) scale(1.035,1.1)" x="0" y="0" font-size="21" text-anchor="middle" fill="#111">DLP (Gy.cm)</text>
</svg></body></html>
